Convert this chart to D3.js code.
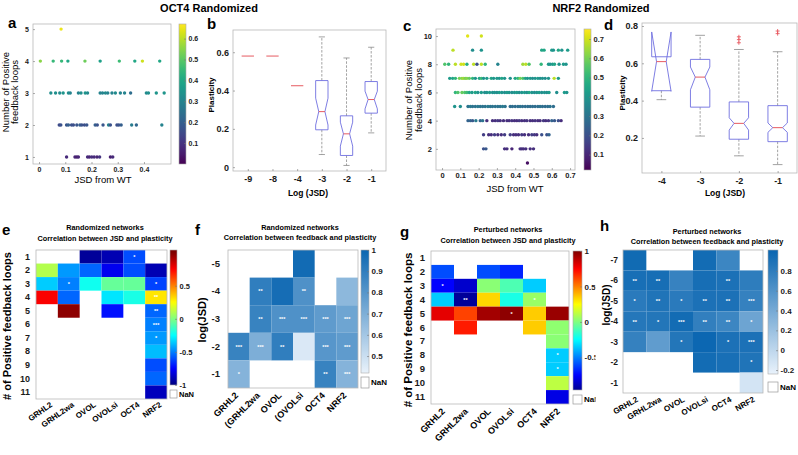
<!DOCTYPE html>
<html><head><meta charset="utf-8">
<script src="https://cdn.jsdelivr.net/npm/d3@7"></script>
<style>body{margin:0;background:#fff}</style>
</head><body>
<svg id="chart" width="798" height="455" style="background:#fff"></svg>
<script>
// ---------------- DATA ----------------
// Panel a (OCT4 randomized): rows = number of positive feedback loops
const aLoops = [1, 2, 3, 4, 5];
const aJSD = [
  [0.105,0.137,0.144,0.15,0.185,0.192,0.201,0.21,0.221,0.231,0.272,0.281],
  [0.077,0.083,0.105,0.112,0.124,0.131,0.144,0.156,0.163,0.173,0.182,0.214,0.222,0.244,0.265,0.272,0.297,0.304,0.313,0.353,0.371,0.468],
  [0.045,0.063,0.079,0.092,0.112,0.119,0.15,0.16,0.176,0.185,0.233,0.242,0.253,0.262,0.278,0.291,0.31,0.326,0.349,0.409,0.417,0.447,0.477],
  [0.005,0.054,0.086,0.11,0.175,0.233,0.306,0.365,0.394,0.46],
  [0.084]
];
const aPlast = [
  [0.08,0.07,0.06,0.07,0.08,0.07,0.09,0.08,0.07,0.1,0.06,0.08],
  [0.15,0.17,0.18,0.2,0.17,0.16,0.18,0.2,0.17,0.16,0.18,0.2,0.17,0.18,0.3,0.17,0.16,0.17,0.2,0.28,0.22,0.3],
  [0.33,0.33,0.32,0.35,0.33,0.3,0.3,0.33,0.35,0.32,0.3,0.3,0.32,0.3,0.3,0.32,0.3,0.3,0.24,0.32,0.33,0.35,0.35],
  [0.55,0.45,0.45,0.4,0.52,0.38,0.46,0.4,0.62,0.4],
  [0.65]
];
const aXTicks = [0, 0.1, 0.2, 0.3, 0.4];
const aYTicks = [1, 2, 3, 4, 5];
const aCTicks = [0.1, 0.2, 0.3, 0.4, 0.5, 0.6];

// Panel b (OCT4 randomized boxplot)
const bCats = ["-9","-8","-4","-3","-2","-1"];
const bMed = [0.58,0.58,0.425,0.29,0.174,0.353];
const bQ1 = [0.58,0.58,0.425,0.195,0.061,0.282];
const bQ3 = [0.58,0.58,0.425,0.452,0.268,0.447];
const bNotchLo = [0.58,0.58,0.425,0.22,0.11,0.304];
const bNotchHi = [0.58,0.58,0.425,0.36,0.235,0.397];
const bWhiskLo = [0.58,0.58,0.425,0.066,0.009,0.179];
const bWhiskHi = [0.58,0.58,0.425,0.68,0.57,0.626];
const bOutliers = [[],[],[],[],[],[]];
const bYTicks = [0, 0.2, 0.4, 0.6];

// Panel c (NRF2 randomized)
const cLoops = [1,2,3,4,5,6,7,8,9,10];
const cJSD = [
  [0.467],
  [0.227,0.24,0.342,0.355,0.382,0.427,0.436,0.445,0.458,0.482,0.5],
  [0.227,0.255,0.269,0.287,0.305,0.324,0.342,0.373,0.391,0.404,0.418,0.436,0.451,0.473,0.491,0.505,0.518,0.545,0.573,0.585],
  [0.142,0.155,0.167,0.185,0.209,0.222,0.245,0.276,0.291,0.305,0.318,0.336,0.355,0.367,0.382,0.396,0.409,0.422,0.436,0.451,0.464,0.482,0.495,0.509,0.524,0.536,0.555,0.567,0.582,0.6,0.615,0.636,0.651],
  [0.069,0.1,0.142,0.155,0.167,0.182,0.196,0.209,0.222,0.236,0.251,0.264,0.276,0.291,0.305,0.318,0.331,0.345,0.373,0.385,0.4,0.415,0.427,0.44,0.455,0.469,0.482,0.495,0.509,0.524,0.536,0.549,0.564,0.578,0.591,0.609],
  [0.073,0.087,0.109,0.124,0.136,0.149,0.164,0.182,0.196,0.215,0.233,0.245,0.26,0.276,0.287,0.3,0.313,0.327,0.342,0.355,0.367,0.382,0.396,0.409,0.422,0.436,0.451,0.464,0.476,0.491,0.505,0.518,0.531,0.545,0.56,0.573,0.585,0.627,0.669,0.682],
  [0.042,0.058,0.073,0.095,0.109,0.118,0.127,0.136,0.149,0.167,0.182,0.204,0.215,0.227,0.245,0.269,0.282,0.3,0.313,0.327,0.342,0.373,0.4,0.415,0.427,0.442,0.455,0.467,0.482,0.495,0.509,0.524,0.536,0.549,0.564,0.582,0.613,0.636],
  [0.015,0.036,0.073,0.104,0.118,0.136,0.173,0.191,0.215,0.236,0.305,0.442,0.458,0.476,0.542,0.582,0.591,0.604,0.615,0.64,0.664,0.678],
  [0.06,0.167,0.215,0.545,0.558,0.6,0.609,0.636,0.655,0.687],
  [0.14,0.215]
];
const cPlast = [
  [0.05],
  [0.2,0.22,0.12,0.12,0.1,0.12,0.12,0.12,0.12,0.12,0.12],
  [0.15,0.12,0.12,0.15,0.12,0.12,0.15,0.15,0.12,0.12,0.12,0.14,0.12,0.12,0.15,0.14,0.12,0.2,0.2,0.25],
  [0.25,0.25,0.22,0.32,0.25,0.3,0.12,0.12,0.12,0.14,0.12,0.12,0.12,0.12,0.13,0.12,0.12,0.14,0.12,0.12,0.13,0.12,0.12,0.13,0.12,0.12,0.14,0.12,0.13,0.25,0.22,0.2,0.12],
  [0.4,0.38,0.3,0.32,0.3,0.3,0.32,0.3,0.3,0.3,0.32,0.3,0.3,0.3,0.3,0.3,0.32,0.3,0.28,0.28,0.28,0.28,0.3,0.28,0.28,0.28,0.28,0.28,0.28,0.28,0.3,0.28,0.28,0.28,0.3,0.28],
  [0.5,0.55,0.58,0.55,0.52,0.45,0.42,0.45,0.4,0.42,0.38,0.4,0.42,0.38,0.4,0.38,0.42,0.4,0.38,0.42,0.4,0.38,0.4,0.42,0.38,0.4,0.42,0.38,0.45,0.4,0.38,0.4,0.42,0.38,0.4,0.38,0.42,0.38,0.42,0.4],
  [0.42,0.45,0.5,0.6,0.62,0.65,0.6,0.62,0.58,0.5,0.4,0.45,0.52,0.4,0.42,0.45,0.4,0.42,0.4,0.45,0.4,0.38,0.45,0.5,0.6,0.55,0.45,0.4,0.42,0.38,0.4,0.42,0.38,0.4,0.38,0.4,0.68,0.42],
  [0.55,0.5,0.68,0.7,0.7,0.48,0.68,0.2,0.68,0.5,0.35,0.65,0.68,0.55,0.5,0.42,0.4,0.42,0.45,0.4,0.42,0.4],
  [0.68,0.38,0.4,0.45,0.45,0.42,0.4,0.45,0.4,0.42],
  [0.72,0.7]
];
const cXTicks = [0,0.1,0.2,0.3,0.4,0.5,0.6,0.7];
const cYTicks = [2,4,6,8,10];
const cCTicks = [0.1,0.2,0.3,0.4,0.5,0.6,0.7];

// Panel d (NRF2 randomized boxplot)
const dCats = ["-4","-3","-2","-1"];
const dMed = [0.609,0.526,0.278,0.255];
const dQ1 = [0.453,0.365,0.193,0.18];
const dQ3 = [0.635,0.621,0.393,0.373];
const dNotchLo = [0.45,0.458,0.242,0.23];
const dNotchHi = [0.768,0.58,0.308,0.28];
const dWhiskLo = [0.405,0.21,0.104,0.057];
const dWhiskHi = [0.635,0.75,0.674,0.662];
const dOutliers = [[],[],[0.742,0.727,0.71],[0.773,0.759]];
const dYTicks = [0.2,0.4,0.6,0.8];

// Heatmaps
const netCols = ["GRHL2","GRHL2wa","OVOL","OVOLsi","OCT4","NRF2"];
const fColLabels = ["GRHL2","(GRHL2wa","OVOL","(OVOLsi","OCT4","NRF2"];
const loopRows = ["1","2","3","4","5","6","7","8","9","10","11"];

const eVals = [
  [null,null,-0.95,-0.9,-0.6,null],
  [0.1,-0.45,-0.55,-0.78,-0.6,-0.9],
  [-0.35,-0.5,-0.22,-0.05,-0.05,-0.62],
  [0.76,-0.55,null,-0.3,-0.2,0.3],
  [null,0.97,null,-0.72,null,-0.55],
  [null,null,null,null,null,-0.5],
  [null,null,null,null,null,-0.45],
  [null,null,null,null,null,-0.38],
  [null,null,null,null,null,-0.6],
  [null,null,null,null,null,-0.55],
  [null,null,null,null,null,-0.88]
];
const eStars = [
  ["","","","","*",""],["","","","","",""],["","*","","","","*"],["","","","","","**"],
  ["","","","","","**"],["","","","","","***"],["","","","","","*"],["","","","","",""],
  ["","","","","",""],["","","","","",""],["","","","","",""]
];

const fRows = ["-5","-4","-3","-2","-1"];
const fVals = [
  [null,null,null,0.98,null,null],
  [null,0.9,0.97,0.82,null,0.66],
  [null,0.88,0.82,0.82,0.78,0.74],
  [0.88,0.7,0.9,0.46,0.8,0.78],
  [0.68,null,null,null,0.88,0.68]
];
const fStars = [
  ["","","","","",""],
  ["","**","","**","",""],
  ["","**","***","***","***","***"],
  ["***","***","**","","***","***"],
  ["*","","","","**","***"]
];

const gVals = [
  [null,null,null,null,null,null],
  [-0.6,null,-0.6,-0.68,null,null],
  [-0.75,-0.85,0.02,-0.1,-0.35,null],
  [-0.35,-0.95,0.33,-0.2,0.05,null],
  [0.8,0.62,0.93,0.97,0.35,0.95],
  [null,0.7,null,null,0.35,0.03],
  [null,null,null,null,null,0.02],
  [null,null,null,null,null,-0.35],
  [null,null,null,null,null,-0.35],
  [null,null,null,null,null,0.12],
  [null,null,null,null,null,-0.8]
];
const gStars = [
  ["","","","","",""],["","","","","",""],["*","","","","",""],["","**","","","*",""],
  ["","","","*","",""],["","","","","",""],["","","","","",""],["","","","","","*"],
  ["","","","","","*"],["","","","","",""],["","","","","",""]
];

const hRows = ["-7","-6","-5","-4","-3","-2","-1"];
const hVals = [
  [0.96,null,null,0.95,0.72,null],
  [0.92,0.93,0.75,0.93,0.9,0.8],
  [0.82,0.88,0.82,0.9,0.9,0.76],
  [0.85,0.86,0.95,0.78,0.72,0.45],
  [0.76,0.52,0.86,0.99,0.9,0.9],
  [null,null,null,0.95,0.92,0.88],
  [null,null,null,null,null,-0.12]
];
const hStars = [
  ["","","","","",""],
  ["**","**","","","**",""],
  ["*","**","*","**","**","***"],
  ["**","*","***","**","**","*"],
  ["","","*","","*","***"],
  ["","","","","","*"],
  ["","","","","",""]
];

// ---------------- DRAWING ----------------
const FONT = '"Liberation Sans", Arial, Helvetica, sans-serif';
const svg = d3.select('#chart');
const defs = svg.append('defs');

function label(par, x, y, s, o = {}) {
  const t = par.append('text').text(s)
    .attr('font-family', FONT).attr('font-size', o.size || 8)
    .attr('font-weight', o.weight || 'bold')
    .attr('text-anchor', o.anchor || 'middle')
    .attr('fill', o.fill || '#000');
  if (o.rotate) t.attr('transform', `translate(${x},${y}) rotate(${o.rotate})`);
  else t.attr('x', x).attr('y', y);
  if (o.dy) t.attr('dy', o.dy);
  return t;
}
function styleAxis(g, size, weight) {
  g.select('.domain').remove();
  g.selectAll('text').attr('font-family', FONT).attr('font-size', size)
    .attr('font-weight', weight).attr('fill', '#1a1a1a');
  g.selectAll('line').attr('stroke', '#777').attr('stroke-width', 0.6);
}
function colorbar(par, id, x0, x1, y0, y1, colorFn, dom, ticks, size, fmt) {
  const grad = defs.append('linearGradient').attr('id', id)
    .attr('x1', 0).attr('x2', 0).attr('y1', 1).attr('y2', 0);
  for (let i = 0; i <= 60; i++) {
    const t = i / 60;
    grad.append('stop').attr('offset', t).attr('stop-color', colorFn(dom[0] + t * (dom[1] - dom[0])));
  }
  const s = d3.scaleLinear().domain(dom).range([y1, y0]);
  par.append('rect').attr('x', x0).attr('y', y0).attr('width', x1 - x0).attr('height', y1 - y0)
    .attr('fill', `url(#${id})`).attr('stroke', '#aaa').attr('stroke-width', 0.6);
  const ax = par.append('g').attr('transform', `translate(${x1},0)`)
    .call(d3.axisRight(s).tickValues(ticks).tickSize(-2).tickPadding(2.5).tickFormat(fmt || (d => d)));
  styleAxis(ax, size, 'bold');
}

function scatterPanel(o) {
  const g = svg.append('g');
  const xs = d3.scaleLinear().domain(o.xDom).range([o.x0, o.x1]);
  const ys = d3.scaleLinear().domain(o.yDom).range([o.y1, o.y0]);
  const color = d3.scaleSequential(d3.interpolateViridis).domain(o.cDom);
  g.append('rect').attr('x', o.x0).attr('y', o.y0).attr('width', o.x1 - o.x0).attr('height', o.y1 - o.y0)
    .attr('fill', '#fff').attr('stroke', '#b8b8b8').attr('stroke-width', 0.8);
  const pts = [];
  o.loops.forEach((L, i) => o.jsd[i].forEach((j, k) => pts.push({ x: j, y: L, c: o.plast[i][k] })));
  g.append('g').selectAll('circle').data(pts).join('circle')
    .attr('cx', d => xs(d.x)).attr('cy', d => ys(d.y)).attr('r', 1.7)
    .attr('fill', d => color(d.c));
  const ax = g.append('g').attr('transform', `translate(0,${o.y1})`)
    .call(d3.axisBottom(xs).tickValues(o.xTicks).tickSize(-2).tickPadding(3).tickFormat(d => d));
  styleAxis(ax, o.tickSize, 'bold');
  const ay = g.append('g').attr('transform', `translate(${o.x0},0)`)
    .call(d3.axisLeft(ys).tickValues(o.yTicks).tickSize(-2).tickPadding(4).tickFormat(d => d));
  styleAxis(ay, o.tickSize, 'bold');
  colorbar(g, o.id, o.cb[0], o.cb[1], o.y0, o.y1, color, o.cDom, o.cTicks, o.tickSize);
  label(g, o.xlab[0], o.xlab[1], 'JSD from WT', { size: 9.5, weight: 'normal' });
  label(g, o.ylab[0], o.ylab[2], 'Number of Positive', { size: 9.5, weight: 'normal', rotate: -90 });
  label(g, o.ylab[1], o.ylab[2], 'feedback loops', { size: 9.5, weight: 'normal', rotate: -90 });
}

function boxPanel(o) {
  const g = svg.append('g');
  const xs = d3.scalePoint().domain(o.cats).range([o.x0, o.x1]).padding(o.pad);
  const ys = d3.scaleLinear().domain(o.yDom).range([o.y1, o.y0]);
  const w = xs.step() * 0.25;
  g.append('rect').attr('x', o.x0).attr('y', o.y0).attr('width', o.x1 - o.x0).attr('height', o.y1 - o.y0)
    .attr('fill', '#fff').attr('stroke', '#b8b8b8').attr('stroke-width', 0.8);
  o.cats.forEach((c, i) => {
    const x = xs(c);
    const wc = w * 0.5;
    [[o.q3[i], o.wHi[i]], [o.q1[i], o.wLo[i]]].forEach(([a, b]) => {
      if (a !== b) {
        g.append('line').attr('x1', x).attr('x2', x).attr('y1', ys(a)).attr('y2', ys(b))
          .attr('stroke', '#8a8a8a').attr('stroke-width', 0.8).attr('stroke-dasharray', '2.5,1.5');
        g.append('line').attr('x1', x - wc).attr('x2', x + wc).attr('y1', ys(b)).attr('y2', ys(b))
          .attr('stroke', '#8a8a8a').attr('stroke-width', 0.8);
      }
    });
    const single = o.q1[i] === o.q3[i];
    if (!single) {
      const p = d3.path();
      p.moveTo(x - w, ys(o.q1[i]));
      p.lineTo(x - w, ys(o.nLo[i]));
      p.lineTo(x - w / 2, ys(o.med[i]));
      p.lineTo(x - w, ys(o.nHi[i]));
      p.lineTo(x - w, ys(o.q3[i]));
      p.lineTo(x + w, ys(o.q3[i]));
      p.lineTo(x + w, ys(o.nHi[i]));
      p.lineTo(x + w / 2, ys(o.med[i]));
      p.lineTo(x + w, ys(o.nLo[i]));
      p.lineTo(x + w, ys(o.q1[i]));
      p.closePath();
      g.append('path').attr('d', p.toString()).attr('fill', 'none')
        .attr('stroke', '#6f6fe0').attr('stroke-width', 0.9);
    }
    const mw = single ? w : w / 2;
    g.append('line').attr('x1', x - mw).attr('x2', x + mw).attr('y1', ys(o.med[i])).attr('y2', ys(o.med[i]))
      .attr('stroke', '#e4474f').attr('stroke-width', 0.9);
    o.out[i].forEach(v => {
      g.append('path').attr('d', `M${x - 2},${ys(v)}h4M${x},${ys(v) - 2}v4`)
        .attr('stroke', '#e4474f').attr('stroke-width', 0.8);
    });
  });
  const ax = g.append('g').attr('transform', `translate(0,${o.y1})`)
    .call(d3.axisBottom(xs).tickSize(-2).tickPadding(5));
  styleAxis(ax, 9, 'bold');
  const ay = g.append('g').attr('transform', `translate(${o.x0},0)`)
    .call(d3.axisLeft(ys).tickValues(o.yTicks).tickSize(-2).tickPadding(4).tickFormat(d => d));
  styleAxis(ay, 9, 'bold');
  label(g, o.xlab[0], o.xlab[1], 'Log (JSD)', { size: 8.5 });
  label(g, o.ylab[0], o.ylab[1], 'Plasticity', { size: 8, rotate: -90 });
}

function jet(v) {
  return d3.scaleLinear().domain([-1, -0.75, -0.25, 0.25, 0.75, 1])
    .range(['#00007f', '#0000ff', '#00ffff', '#ffff00', '#ff0000', '#7f0000']).clamp(true)(v);
}
function blues(dom) {
  return d3.scaleLinear().domain(dom).range(['#e9f2fb', '#0a66b1']).clamp(true);
}

function heatPanel(o) {
  const g = svg.append('g');
  if (o.clip) g.attr('clip-path', `url(#${o.clip})`);
  const xs = d3.scaleBand().domain(o.cols).range([o.x0, o.x1]);
  const ys = d3.scaleBand().domain(o.rows).range([o.y0, o.y1]);
  g.append('rect').attr('x', o.x0).attr('y', o.y0).attr('width', o.x1 - o.x0).attr('height', o.y1 - o.y0)
    .attr('fill', '#fff');
  const cells = [];
  o.rows.forEach((r, i) => o.cols.forEach((c, j) => cells.push({ r, c, v: o.vals[i][j], s: o.stars[i][j] })));
  g.append('g').selectAll('rect').data(cells.filter(d => d.v !== null)).join('rect')
    .attr('x', d => xs(d.c)).attr('y', d => ys(d.r))
    .attr('width', xs.bandwidth()).attr('height', ys.bandwidth())
    .attr('fill', d => o.color(d.v));
  g.append('rect').attr('x', o.x0).attr('y', o.y0).attr('width', o.x1 - o.x0).attr('height', o.y1 - o.y0)
    .attr('fill', 'none').attr('stroke', '#b8b8b8').attr('stroke-width', 0.8);
  g.append('g').selectAll('text').data(cells.filter(d => d.s)).join('text')
    .attr('x', d => xs(d.c) + xs.bandwidth() / 2).attr('y', d => ys(d.r) + ys.bandwidth() / 2 + 2)
    .attr('text-anchor', 'middle').attr('font-family', FONT).attr('font-size', 5.5).attr('font-weight', 'bold')
    .attr('fill', '#fff').text(d => d.s);
  const ay = g.append('g').attr('transform', `translate(${o.x0},0)`)
    .call(d3.axisLeft(ys).tickSize(0).tickPadding(o.rowPad));
  styleAxis(ay, o.rowSize, 'bold');
  o.cols.forEach((c, j) => {
    label(g, xs(c) + xs.bandwidth() / 2 + o.colDx, o.y1 + o.colDy, o.colLabels[j],
      { size: o.colSize, anchor: 'end', rotate: o.colRot });
  });
  colorbar(g, o.id, o.cb[0], o.cb[1], o.y0, o.cbBottom, o.color, o.cDom, o.cTicks, o.cbSize);
  g.append('rect').attr('x', o.cb[0]).attr('y', o.nan[0]).attr('width', o.cb[1] - o.cb[0]).attr('height', o.nan[1] - o.nan[0])
    .attr('fill', '#fff').attr('stroke', '#999').attr('stroke-width', 0.7);
  label(g, o.cb[1] + 2, (o.nan[0] + o.nan[1]) / 2 + 2.7, 'NaN', { size: o.cbSize, anchor: 'start' });
  label(g, o.title[0], o.title[1], o.t1, { size: 7.3 });
  label(g, o.title[0], o.title[2], o.t2, { size: 7.3 });
  label(g, o.ylab[0], o.ylab[1], o.ylabText, { size: o.ylabSize, rotate: -90 });
}

// Titles
label(svg, 209, 12, 'OCT4 Randomized', { size: 11 });
label(svg, 601, 12, 'NRF2 Randomized', { size: 11 });

// Panel a
scatterPanel({
  id: 'cbA', x0: 33, x1: 171, y0: 24, y1: 164, xDom: [-0.023, 0.503], yDom: [0.78, 5.16],
  cDom: [0, 0.67], loops: aLoops, jsd: aJSD, plast: aPlast, xTicks: aXTicks, yTicks: aYTicks,
  cTicks: aCTicks, cb: [179, 186], tickSize: 7, xlab: [103, 183], ylab: [9, 18, 92]
});
// Panel c
scatterPanel({
  id: 'cbC', x0: 436, x1: 575, y0: 29, y1: 170, xDom: [-0.033, 0.727], yDom: [0.5, 10.5],
  cDom: [0.02, 0.752], loops: cLoops, jsd: cJSD, plast: cPlast, xTicks: cXTicks, yTicks: cYTicks,
  cTicks: cCTicks, cb: [584, 591], tickSize: 7.5, xlab: [515, 192], ylab: [412, 422, 100]
});
// Panel b
boxPanel({
  cats: bCats, x0: 233, x1: 386, y0: 30, y1: 171, pad: 0.6, yDom: [-0.02, 0.716],
  med: bMed, q1: bQ1, q3: bQ3, nLo: bNotchLo, nHi: bNotchHi, wLo: bWhiskLo, wHi: bWhiskHi,
  out: bOutliers, yTicks: bYTicks, xlab: [308, 196], ylab: [214, 95]
});
// Panel d
boxPanel({
  cats: dCats, x0: 642, x1: 797, y0: 23, y1: 173, pad: 0.5, yDom: [0.012, 0.816],
  med: dMed, q1: dQ1, q3: dQ3, nLo: dNotchLo, nHi: dNotchHi, wLo: dWhiskLo, wHi: dWhiskHi,
  out: dOutliers, yTicks: dYTicks, xlab: [725, 196], ylab: [625, 93]
});

// clip for panel g (its colorbar labels are cut by panel h)
defs.append('clipPath').attr('id', 'clipG').append('rect').attr('x', 380).attr('y', 200).attr('width', 215.5).attr('height', 255);

// Panel e
heatPanel({
  id: 'cbE', cols: netCols, colLabels: netCols, rows: loopRows, vals: eVals, stars: eStars,
  x0: 36, x1: 167, y0: 250, y1: 399, color: jet, cDom: [-1, 1.04], cTicks: [-1, -0.5, 0, 0.5],
  cb: [170, 177], cbBottom: 385, nan: [390, 398], cbSize: 7.5, rowPad: 6, rowSize: 9,
  colDx: 6, colDy: 7, colRot: -35, colSize: 8,
  title: [105, 230, 241], t1: 'Randomized networks', t2: 'Correlation between JSD and plasticity',
  ylab: [11, 326], ylabText: '# of Positive feedback loops', ylabSize: 11
});
// Panel f
const fColor = blues([0.42, 1]);
heatPanel({
  id: 'cbF', cols: netCols, colLabels: fColLabels, rows: fRows, vals: fVals, stars: fStars,
  x0: 228, x1: 358, y0: 250, y1: 388, color: fColor, cDom: [0.42, 1.0], cTicks: [0.5, 0.6, 0.7, 0.8, 0.9, 1],
  cb: [361, 369], cbBottom: 373, nan: [377, 388], cbSize: 8, rowPad: 8, rowSize: 9.5,
  colDx: 0, colDy: 8, colRot: -45, colSize: 9,
  title: [300, 230, 240], t1: 'Randomized networks', t2: 'Correlation between feedback and plasticity',
  ylab: [206, 320], ylabText: 'log(JSD)', ylabSize: 11
});
// Panel g
heatPanel({
  id: 'cbG', clip: 'clipG', cols: netCols, colLabels: netCols, rows: loopRows, vals: gVals, stars: gStars,
  x0: 431, x1: 569, y0: 251, y1: 404, color: jet, cDom: [-0.96, 1], cTicks: [-0.5, 0, 0.5, 1],
  cb: [573, 582], cbBottom: 390, nan: [395, 404], cbSize: 8, rowPad: 6, rowSize: 9.5,
  colDx: 3, colDy: 8, colRot: -45, colSize: 9,
  title: [508, 232, 243], t1: 'Perturbed networks', t2: 'Correlation between JSD and plasticity',
  ylab: [412, 330], ylabText: '# of Positive feedback loops', ylabSize: 11.5
});
// Panel h
const hColor = blues([-0.24, 1]);
heatPanel({
  id: 'cbH', cols: netCols, colLabels: netCols, rows: hRows, vals: hVals, stars: hStars,
  x0: 623, x1: 763, y0: 250, y1: 393, color: hColor, cDom: [-0.24, 1.01], cTicks: [-0.2, 0, 0.2, 0.4, 0.6, 0.8],
  cb: [768, 778], cbBottom: 374, nan: [382, 392], cbSize: 8, rowPad: 5, rowSize: 8.5,
  colDx: 4, colDy: 8, colRot: -30, colSize: 8,
  title: [707, 234, 244], t1: 'Perturbed networks', t2: 'Correlation between feedback and plasticity',
  ylab: [610, 305], ylabText: 'log(JSD)', ylabSize: 10
});

// Panel letters
[['a', 8, 28], ['b', 207, 29], ['c', 403, 31], ['d', 604, 30],
 ['e', 2, 235], ['f', 195, 235], ['g', 400, 237], ['h', 600, 231]].forEach(([s, x, y]) =>
  label(svg, x, y, s, { size: 15, anchor: 'start' }));
</script>
</body></html>
